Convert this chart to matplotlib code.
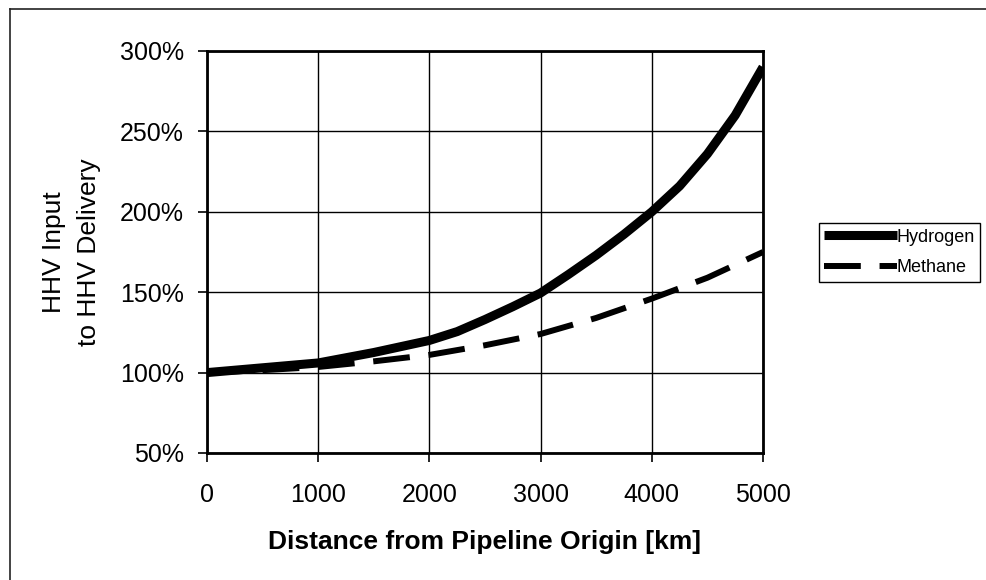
"""HHV input needed per unit of HHV delivered along a long gas pipeline."""

import matplotlib

matplotlib.use("Agg")
import matplotlib.pyplot as plt
from matplotlib.lines import Line2D
from matplotlib.ticker import FixedLocator

# hydrogen at a finer step where it bends most
hydrogen_km = [0, 500, 1000, 1500, 2000, 2250, 2500, 2750, 3000,
               3250, 3500, 3750, 4000, 4250, 4500, 4750, 5000]
hydrogen_pct = [100, 103, 106, 112.5, 120, 125.5, 133, 141, 149.5,
                161, 173, 186, 200, 216, 236, 260, 290]

methane_km = [0, 500, 1000, 1500, 2000, 2500, 3000, 3500, 4000, 4500, 4750, 5000]
methane_pct = [100, 101.5, 103.5, 107, 111, 117, 124, 134, 146, 159, 167, 175]

x_ticks = [0, 1000, 2000, 3000, 4000, 5000]
y_ticks = [50, 100, 150, 200, 250, 300]
y_tick_labels = ["50%", "100%", "150%", "200%", "250%", "300%"]

W, H = 986, 580

plt.rcParams["font.family"] = ["Liberation Sans", "DejaVu Sans"]
plt.rcParams["lines.scale_dashes"] = False

fig = plt.figure(figsize=(W / 100, H / 100), dpi=100)
ax = fig.add_axes([207 / W, 1 - 453 / H, (763 - 207) / W, (453 - 51) / H])

ax.plot(hydrogen_km, hydrogen_pct, color="black", lw=6.5, solid_capstyle="butt",
        solid_joinstyle="round", label="Hydrogen", zorder=3)
ax.plot(methane_km, methane_pct, color="black", lw=4.3, dashes=(26.5, 13.5),
        dash_capstyle="butt", label="Methane", zorder=3)

ax.set_xlim(0, 5000)
ax.set_ylim(50, 300)
ax.xaxis.set_major_locator(FixedLocator(x_ticks))
ax.set_xticklabels([str(v) for v in x_ticks])
ax.yaxis.set_major_locator(FixedLocator(y_ticks))
ax.set_yticklabels(y_tick_labels)

ax.grid(True, color="black", lw=1.0)
ax.set_axisbelow(True)
for side in ax.spines.values():
    side.set_linewidth(2.0)
    side.set_color("black")

ax.tick_params(axis="both", direction="out", length=6.5, width=1.2,
               labelsize=18, color="black")
ax.tick_params(axis="x", pad=15)
ax.tick_params(axis="y", pad=10)

ax.set_xlabel("Distance from Pipeline Origin [km]", fontsize=19,
              fontweight="bold", labelpad=17)
ax.set_ylabel("HHV Input\nto HHV Delivery", fontsize=19,
              labelpad=14, linespacing=1.55)

leg = fig.legend(loc="center left", bbox_to_anchor=(819 / W, 1 - 252.5 / H),
                 fontsize=13, handlelength=4.0, handletextpad=0.0,
                 borderpad=0.3, labelspacing=0.75, borderaxespad=0,
                 fancybox=False, framealpha=1)
leg.get_frame().set_edgecolor("black")
leg.get_frame().set_linewidth(1.0)

# scanned page frame: only top and left edges are visible
fig.add_artist(Line2D([9.5 / W, 1], [1 - 8.5 / H, 1 - 8.5 / H],
                      transform=fig.transFigure, color="#222222", lw=1.2))
fig.add_artist(Line2D([9.5 / W, 9.5 / W], [0, 1 - 8.5 / H],
                      transform=fig.transFigure, color="#222222", lw=1.2))

fig.savefig("out.png", dpi=100)
